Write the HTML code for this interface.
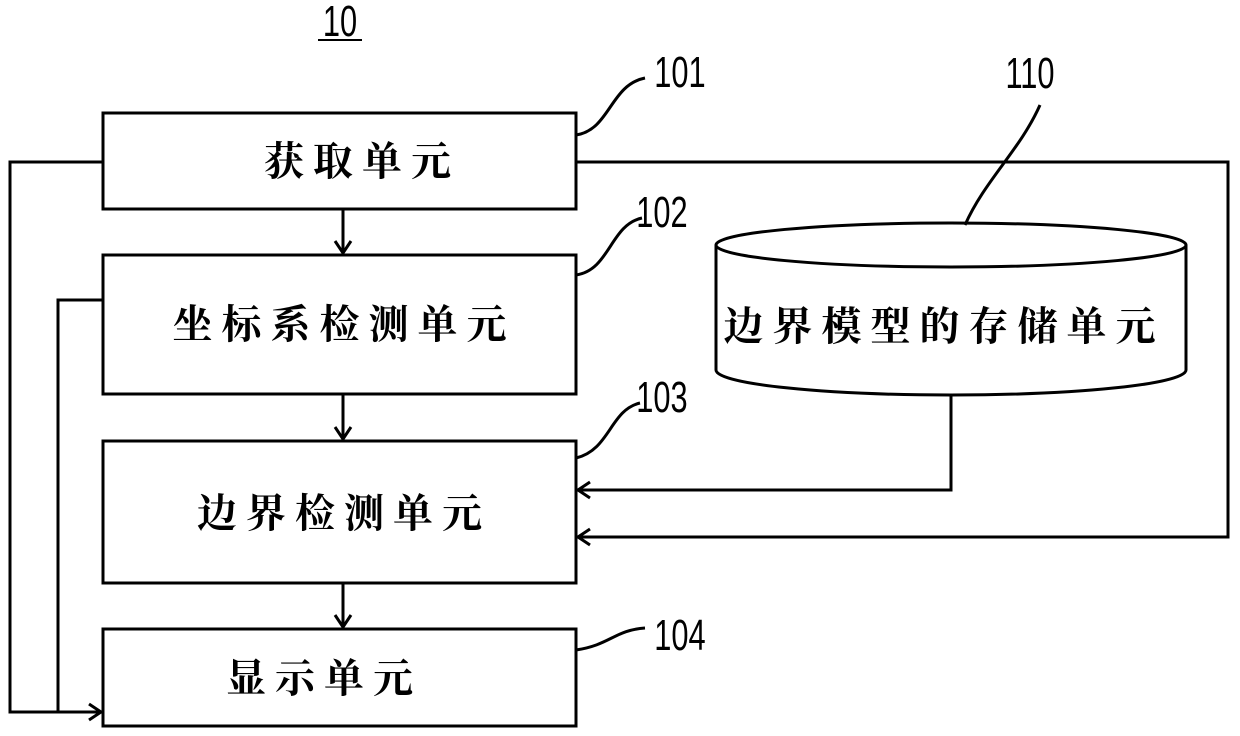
<!DOCTYPE html>
<html><head><meta charset="utf-8"><style>
html,body{margin:0;padding:0;background:#fff;}
svg{display:block;}
.cn{font-family:"Liberation Serif","Noto Serif CJK SC","Noto Sans CJK SC",serif;font-size:40px;font-weight:bold;fill:#000;letter-spacing:9px;}
.num{font-family:"Liberation Sans",sans-serif;font-size:44px;fill:#000;}
</style></head><body>
<svg width="1240" height="736" viewBox="0 0 1240 736" xmlns="http://www.w3.org/2000/svg">
<g fill="none" stroke="#000" stroke-width="3">
<rect x="103" y="113" width="473" height="96"/>
<rect x="103" y="255" width="473" height="139"/>
<rect x="103" y="441" width="473" height="142"/>
<rect x="103" y="629" width="473" height="97"/>
<path d="M716 245 L716 370 A235 25 0 0 0 1186 370 L1186 245"/>
<ellipse cx="951" cy="245" rx="235" ry="22"/>
<path d="M343 209 V253 M335 241 L343 253 L351 241"/>
<path d="M343 394 V439 M335 427 L343 439 L351 427"/>
<path d="M343 583 V627 M335 615 L343 627 L351 615"/>
<path d="M103 162 H10 V712 H101 M89 704 L101 712 L89 720"/>
<path d="M103 300 H58 V712"/>
<path d="M576 162 H1228 V537 H578 M590 529 L578 537 L590 545"/>
<path d="M951 395 V490 H578 M590 482 L578 490 L590 498"/>
<path d="M576 135 C610 130 610 85 645 78"/>
<path d="M576 275 C610 270 610 225 642 218"/>
<path d="M576 458 C610 450 610 410 640 403"/>
<path d="M576 650 C610 645 615 630 645 628"/>
<path d="M965 225 C985 180 1020 150 1040 105"/>
<path d="M318 40 H362" stroke-width="2"/>
</g>
<text class="num" x="340" y="36" text-anchor="middle" transform="translate(340 0) scale(0.7 1) translate(-340 0)">10</text>
<text class="num" x="680" y="87" text-anchor="middle" transform="translate(680 0) scale(0.7 1) translate(-680 0)">101</text>
<text class="num" x="662" y="227" text-anchor="middle" transform="translate(662 0) scale(0.7 1) translate(-662 0)">102</text>
<text class="num" x="662" y="412" text-anchor="middle" transform="translate(662 0) scale(0.7 1) translate(-662 0)">103</text>
<text class="num" x="680" y="650" text-anchor="middle" transform="translate(680 0) scale(0.7 1) translate(-680 0)">104</text>
<text class="num" x="1030" y="88" text-anchor="middle" transform="translate(1030 0) scale(0.7 1) translate(-1030 0)">110</text>
<text class="cn" x="362" y="175" text-anchor="middle">获取单元</text>
<text class="cn" x="344" y="338" text-anchor="middle">坐标系检测单元</text>
<text class="cn" x="344" y="527" text-anchor="middle">边界检测单元</text>
<text class="cn" x="324" y="692" text-anchor="middle">显示单元</text>
<text class="cn" x="944" y="340" text-anchor="middle">边界模型的存储单元</text>
</svg>
</body></html>
